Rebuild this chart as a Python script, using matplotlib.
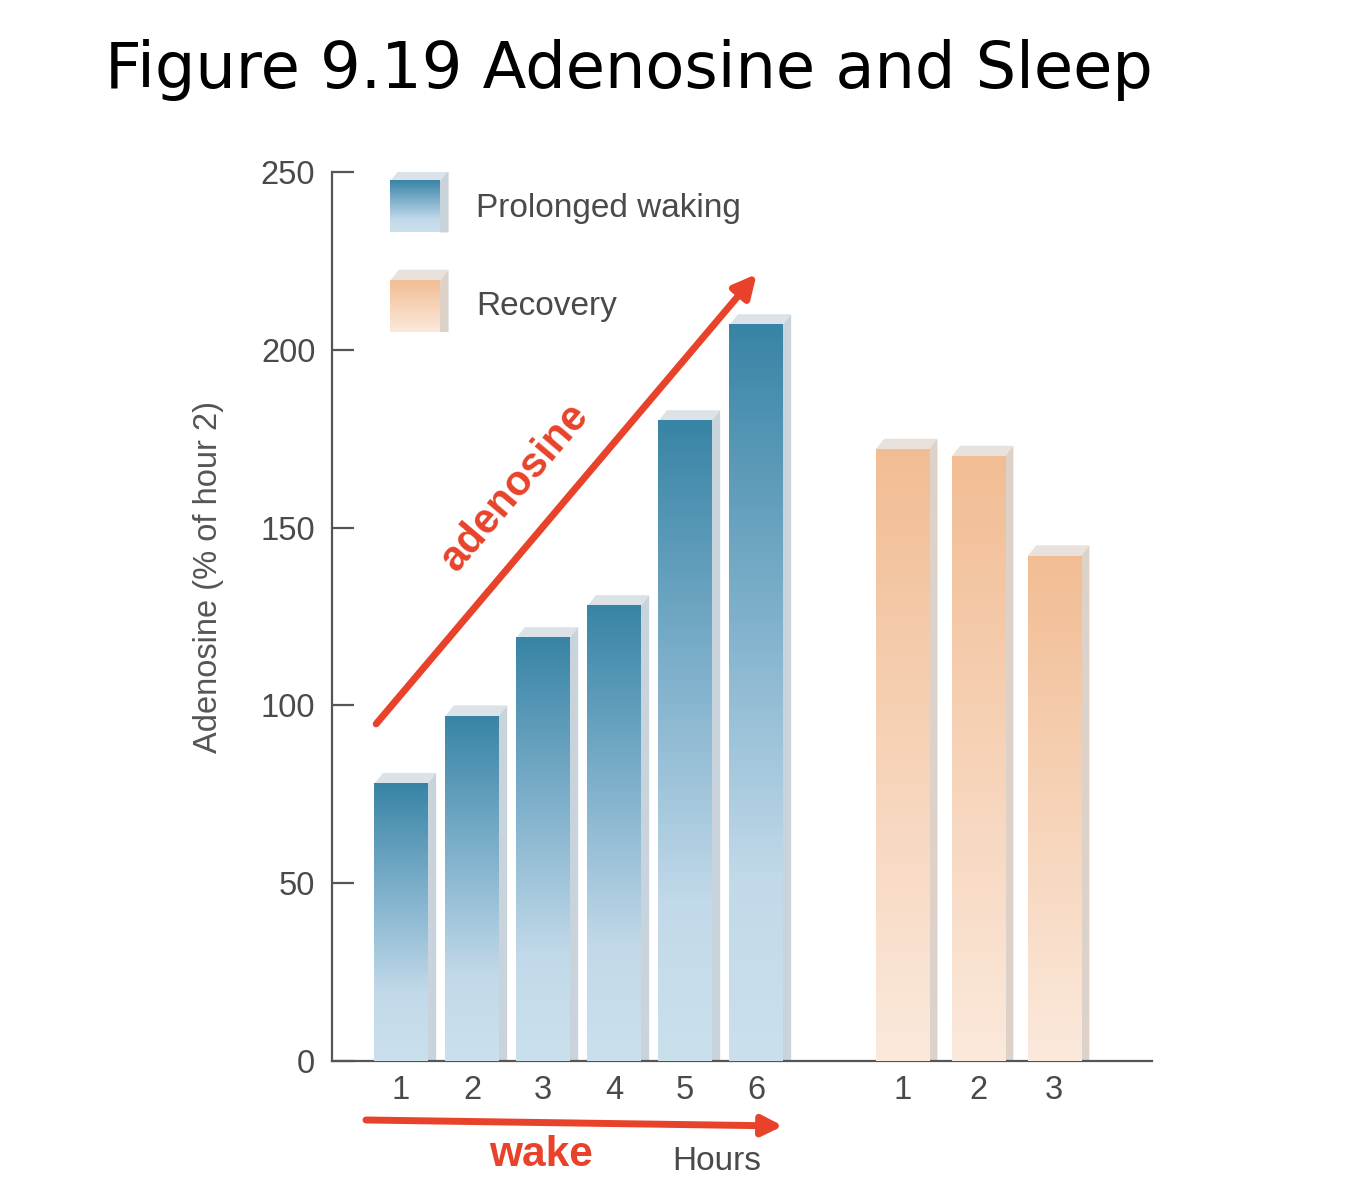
import numpy as np
import matplotlib.pyplot as plt
from matplotlib.colors import LinearSegmentedColormap
from matplotlib.patches import Polygon

# values
wake_hours = ['1', '2', '3', '4', '5', '6']
wake_values = [78, 97, 119, 128, 180, 207]
recovery_hours = ['1', '2', '3']
recovery_values = [172, 170, 142]
y_ticks = [0, 50, 100, 150, 200, 250]

W, H = 1366, 1200
fig = plt.figure(figsize=(W / 100, H / 100), dpi=100)


def fxy(px, py):
    # pixel position -> figure fraction
    return px / W, 1 - py / H


ax = fig.add_axes([332 / W, 1 - 1061 / H, (1152 - 332) / W, (1061 - 172) / H])

blue_cmap = LinearSegmentedColormap.from_list(
    'blue', [(0, '#cbe0ed'), (0.25, '#c1d9e9'), (0.6, '#80b1cc'), (1, '#3884a5')])
orange_cmap = LinearSegmentedColormap.from_list(
    'orange', [(0, '#fbe9dc'), (1, '#f2bd94')])

bar_w = 0.75
red = '#e8432a'
grey = '#4a4a4a'


def draw_bar(x0, x1, y0, y1, cmap, top_col, side_col):
    grad = np.linspace(0, 1, 256).reshape(-1, 1)
    ax.imshow(grad, cmap=cmap, origin='lower', extent=[x0, x1, y0, y1],
              aspect='auto', zorder=3, interpolation='bilinear')
    dx, dy = 0.12, 3.0
    ax.add_patch(Polygon([(x0, y1), (x0 + dx, y1 + dy), (x1 + dx, y1 + dy), (x1, y1)],
                         closed=True, facecolor=top_col, edgecolor='none', zorder=2))
    ax.add_patch(Polygon([(x1, y0), (x1, y1), (x1 + dx, y1 + dy), (x1 + dx, y0)],
                         closed=True, facecolor=side_col, edgecolor='none', zorder=2))


wake_x = np.arange(len(wake_values))
rec_x = 7.06 + 1.07 * np.arange(len(recovery_values))

for x, v in zip(wake_x, wake_values):
    draw_bar(x - bar_w / 2, x + bar_w / 2, 0, v, blue_cmap, '#dbe2e8', '#c8d3db')
for x, v in zip(rec_x, recovery_values):
    draw_bar(x - bar_w / 2, x + bar_w / 2, 0, v, orange_cmap, '#e9e2dc', '#ddd2c9')

# legend swatches
draw_bar(-0.15, 0.55, 233, 247.5, blue_cmap, '#dbe2e8', '#c8d3db')
draw_bar(-0.15, 0.55, 205, 219.5, orange_cmap, '#e9e2dc', '#ddd2c9')

ax.set_xlim(-0.972, 10.577)
ax.set_ylim(0, 250)

for s in ['top', 'right']:
    ax.spines[s].set_visible(False)
for s in ['left', 'bottom']:
    ax.spines[s].set_color('#555555')
    ax.spines[s].set_linewidth(1.6)

ax.set_yticks(y_ticks)
ax.set_yticklabels([str(t) for t in y_ticks], fontsize=23.5, color=grey,
                   family='Liberation Sans')
ax.tick_params(axis='y', direction='in', length=16, width=1.6, color='#555555', pad=12)

ax.set_xticks(list(wake_x) + list(rec_x))
ax.set_xticklabels(wake_hours + recovery_hours, fontsize=23.5, color=grey,
                   family='Liberation Sans')
ax.tick_params(axis='x', length=0, pad=10)

# title and labels
fig.text(*fxy(105, 88), 'Figure 9.19 Adenosine and Sleep', fontsize=46,
         family='DejaVu Sans', va='baseline', ha='left', color='black')
fig.text(*fxy(208, 577), 'Adenosine (% of hour 2)', rotation=90, fontsize=23.5,
         color='#555555', ha='center', va='center', family='Liberation Sans')
fig.text(*fxy(476, 208), 'Prolonged waking', fontsize=24, color=grey,
         ha='left', va='center', family='Liberation Sans')
fig.text(*fxy(476, 307), 'Recovery', fontsize=24, color=grey,
         ha='left', va='center', family='Liberation Sans')

# adenosine arrow
ax.annotate('', xy=(5.01, 221.3), xytext=(-0.35, 94.8),
            arrowprops=dict(arrowstyle='-|>', color=red, lw=5, mutation_scale=34,
                            shrinkA=0, shrinkB=0),
            annotation_clip=False, zorder=5)
fig.text(*fxy(515, 487), 'adenosine', rotation=49.7, rotation_mode='anchor',
         fontsize=30, fontweight='bold', color=red, ha='center', va='center',
         family='Liberation Sans')

# wake arrow under the axis
fig.add_artist(plt.Annotation('', xy=fxy(783, 1126), xytext=fxy(366, 1120),
                              xycoords='figure fraction', textcoords='figure fraction',
                              arrowprops=dict(arrowstyle='-|>', color=red, lw=5,
                                              mutation_scale=30, shrinkA=0, shrinkB=0)))
fig.text(*fxy(541, 1155), 'wake', fontsize=30.5, fontweight='bold', color=red,
         ha='center', va='center', family='Liberation Sans')
fig.text(*fxy(717, 1162), 'Hours', fontsize=24, color=grey,
         ha='center', va='center', family='Liberation Sans')

fig.savefig('out.png', dpi=100, facecolor='white')
